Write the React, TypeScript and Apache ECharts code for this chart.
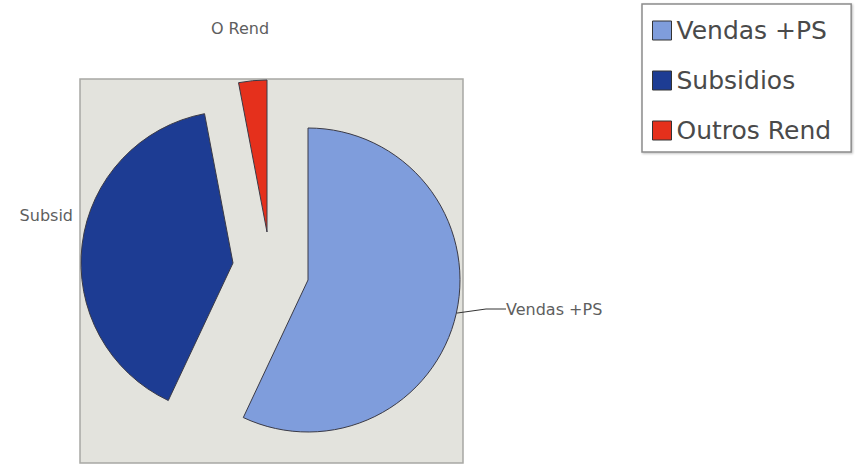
import React, { useEffect, useRef } from "react";
import * as echarts from "echarts";

const categories = ["Vendas +PS", "Subsidios", "Outros Rend"];
const sliceLabels = ["Vendas +PS", "Subsid", "O Rend"];
const values = [57, 40, 3];
const colors = ["#7f9ddc", "#1d3c93", "#e5301c"];
// exploded slice apex positions (pixels) and label anchors
const sliceCenters: [number, number][] = [
  [308, 280],
  [233, 263],
  [267, 232],
];
const labelPos = [
  { x: 506, y: 309, align: "left" },
  { x: 73, y: 215, align: "right" },
  { x: 240, y: 28, align: "center" },
];

export default function App() {
  const ref = useRef<HTMLDivElement>(null);
  useEffect(() => {
    if (!ref.current) return;
    const chart = echarts.init(ref.current, null, { renderer: "svg" });
    const series = categories.map((_, k) => ({
      type: "pie",
      center: sliceCenters[k],
      radius: 152,
      startAngle: 90,
      clockwise: true,
      avoidLabelOverlap: false,
      emphasis: { disabled: true },
      z: 3,
      labelLayout: () => ({
        x: labelPos[k].x,
        y: labelPos[k].y,
        align: labelPos[k].align,
        verticalAlign: "middle",
      }),
      data: categories.map((name, i) => ({
        name,
        value: values[i],
        itemStyle:
          i === k
            ? { color: colors[i], borderColor: "#3a3a46", borderWidth: 1 }
            : { color: "transparent", borderWidth: 0 },
        label: {
          show: i === k,
          position: "outside",
          formatter: sliceLabels[i],
          fontFamily: "DejaVu Sans",
          fontSize: 16,
          color: "#5e5e5e",
        },
        labelLine: {
          show: i === k && k === 0,
          length: 10,
          length2: 20,
          lineStyle: { color: "#333", width: 1 },
        },
      })),
    }));
    chart.setOption({
      animation: false,
      backgroundColor: "#ffffff",
      graphic: [
        {
          type: "rect",
          z: -10,
          shape: { x: 80, y: 79, width: 383, height: 384 },
          style: { fill: "#e3e3dd", stroke: "#a8a8a4", lineWidth: 1.5 },
        },
      ],
      legend: {
        orient: "vertical",
        left: 642,
        top: 4,
        padding: [14, 20, 9, 10],
        itemGap: 25,
        itemWidth: 19,
        itemHeight: 19,
        itemTextGap: 7,
        icon: "rect",
        backgroundColor: "#ffffff",
        borderColor: "#8c8c8c",
        borderWidth: 1.5,
        shadowColor: "rgba(0,0,0,0.25)",
        shadowBlur: 2,
        shadowOffsetX: 1,
        shadowOffsetY: 1,
        selectedMode: false,
        textStyle: { fontFamily: "DejaVu Sans", fontSize: 25, color: "#4a4a4a" },
        data: categories.map((name, i) => ({
          name,
          itemStyle: { color: colors[i], borderColor: "#333", borderWidth: 1 },
        })),
      },
      series,
    });
    return () => chart.dispose();
  }, []);
  return (
    <div
      ref={ref}
      style={{ position: "fixed", left: 0, top: 0, width: 859, height: 472 }}
    />
  );
}
